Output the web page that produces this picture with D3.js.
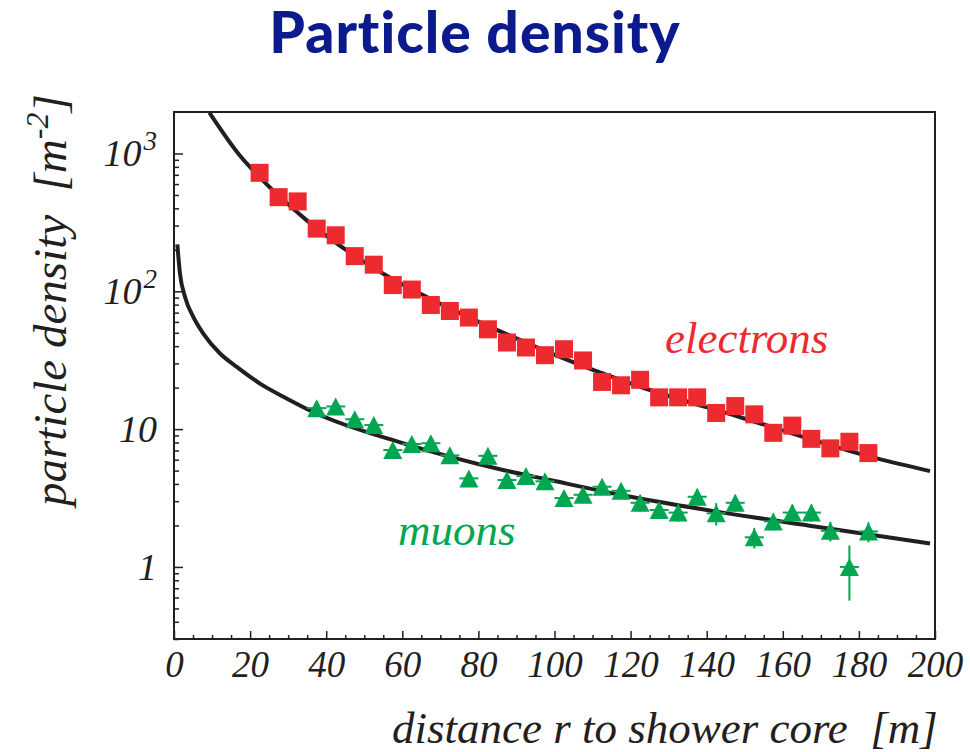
<!DOCTYPE html>
<html>
<head>
<meta charset="utf-8">
<script src="https://cdn.jsdelivr.net/npm/d3@7"></script>
<style>
  html, body { margin: 0; padding: 0; background: #ffffff; }
  svg { display: block; }
</style>
</head>
<body>
<svg id="chart" width="970" height="752"></svg>
<script>
// ---- data -------------------------------------------------------------
// electron densities per 5 m radial bin [m^-2]
const electronR = [22.5, 27.5, 32.5, 37.5, 42.5, 47.5, 52.5, 57.5, 62.5, 67.5, 72.5,
                   77.5, 82.5, 87.5, 92.5, 97.5, 102.5, 107.5, 112.5, 117.5, 122.5,
                   127.5, 132.5, 137.5, 142.5, 147.5, 152.5, 157.5, 162.5, 167.5,
                   172.5, 177.5, 182.5];
const electronDensity = [724, 482, 449, 285, 255, 180, 156, 111, 103, 79.6, 72,
                         64.5, 53, 42.5, 39.1, 34.4, 38, 31.5, 22, 20.8, 22.8,
                         17, 17, 17, 13.1, 14.7, 12.8, 9.4, 10.6, 8.5,
                         7.25, 8.1, 6.7];

// muon densities per 5 m radial bin [m^-2] with statistical errors
const muonR = [37.5, 42.5, 47.5, 52.5, 57.5, 62.5, 67.5, 72.5, 77.5, 82.5,
               87.5, 92.5, 97.5, 102.5, 107.5, 112.5, 117.5, 122.5, 127.5, 132.5,
               137.5, 142.5, 147.5, 152.5, 157.5, 162.5, 167.5, 172.5, 177.5, 182.5];
const muonDensity = [14.2, 14.6, 11.8, 10.7, 7.05, 7.8, 7.9, 6.45, 4.39, 6.4,
                     4.27, 4.57, 4.18, 3.16, 3.34, 3.82, 3.57, 2.92, 2.59, 2.48,
                     3.23, 2.45, 2.92, 1.64, 2.14, 2.48, 2.48, 1.83, 1.0, 1.81];
const muonError = [1.2, 1.2, 1.0, 0.9, 0.7, 0.7, 0.7, 0.6, 0.5, 0.6,
                   0.5, 0.5, 0.5, 0.4, 0.4, 0.45, 0.4, 0.4, 0.35, 0.35,
                   0.4, 0.45, 0.4, 0.28, 0.3, 0.35, 0.35, 0.3, 0.43, 0.3];

// fitted lateral distribution functions, sampled
const electronFitR = [9.3, 17.3, 22.5, 34.9, 55, 69.9, 96.2, 101.4, 122.5, 148.8, 184.7, 198.7];
const electronFitD = [1980, 967, 673, 327, 134, 81.4, 38.4, 33.4, 20.3, 12.2, 6.13, 4.96];
const muonFitR = [0.87, 1.58, 2.9, 5.1, 7.7, 12.1, 16.5, 22.6, 29.6, 36.6, 60.3, 86.5, 98.8, 120.7, 142.6, 168.9, 198.7];
const muonFitD = [219, 134, 91, 65, 49.4, 35.4, 28.3, 21.4, 16.7, 13.3, 7.88, 5.05, 4.27, 3.2, 2.52, 1.96, 1.48];

// axis ticks
const xMajorTicks = [0, 20, 40, 60, 80, 100, 120, 140, 160, 180, 200];
const yMajorTicks = [1, 10, 100, 1000];
const yTickLabels = [{base: "1", sup: ""}, {base: "10", sup: ""}, {base: "10", sup: "2"}, {base: "10", sup: "3"}];

// ---- layout -----------------------------------------------------------
const RED = "#ec2a2f", GREEN = "#00a651", INK = "#231f20", TITLE = "#0b1a8c";
const frame = {left: 174, right: 935, top: 112, bottom: 639};
const SERIF = '"Liberation Serif"';

const svg = d3.select("#chart");
const italic = sel => sel.style("font-family", SERIF).style("font-style", "italic");

const x = d3.scaleLinear().domain([0, 200]).range([frame.left, frame.right]);
const y = d3.scaleLog().domain([0.3, 2000]).range([frame.bottom, frame.top]);

// title
svg.append("text")
  .attr("x", 475).attr("y", 53)
  .attr("text-anchor", "middle")
  .style("font-family", '"Lato"')
  .style("font-weight", 900)
  .style("font-size", "57px")
  .style("letter-spacing", "1px")
  .style("font-variant-ligatures", "none")
  .attr("fill", TITLE)
  .text("Particle density");

// clip region for curves
svg.append("clipPath").attr("id", "plot-clip")
  .append("rect").attr("x", frame.left).attr("y", frame.top)
  .attr("width", frame.right - frame.left).attr("height", frame.bottom - frame.top);

// ---- axes ---------------------------------------------------------------
const xMinor = d3.range(0, 201, 5).filter(v => v % 20 !== 0);
const yMinor = [];
[0.1, 1, 10, 100, 1000].forEach(d => { for (let k = 2; k <= 9; k++) { const v = d * k; if (v > 0.3 && v < 2000) yMinor.push(v); } });

const gx = svg.append("g").attr("transform", `translate(0,${frame.bottom})`);
gx.call(d3.axisBottom(x).tickValues(xMajorTicks).tickSize(-8).tickFormat(d3.format("d")));
gx.call(g => g.select(".domain").remove());
gx.selectAll(".tick line").attr("stroke", INK).attr("stroke-width", 1.5);
gx.selectAll(".tick text")
  .call(italic).style("font-size", "37px")
  .attr("fill", INK).attr("dy", null).attr("y", 38);

const gxm = svg.append("g").attr("transform", `translate(0,${frame.bottom})`);
gxm.call(d3.axisBottom(x).tickValues(xMinor).tickSize(-4).tickFormat(""));
gxm.call(g => g.select(".domain").remove());
gxm.selectAll(".tick line").attr("stroke", INK).attr("stroke-width", 1.5);

const gy = svg.append("g").attr("transform", `translate(${frame.left},0)`);
gy.call(d3.axisLeft(y).tickValues(yMajorTicks).tickSize(-9).tickFormat(""));
gy.call(g => g.select(".domain").remove());
gy.selectAll(".tick line").attr("stroke", INK).attr("stroke-width", 1.5);

const gym = svg.append("g").attr("transform", `translate(${frame.left},0)`);
gym.call(d3.axisLeft(y).tickValues(yMinor).tickSize(-5).tickFormat(""));
gym.call(g => g.select(".domain").remove());
gym.selectAll(".tick line").attr("stroke", INK).attr("stroke-width", 1.5);

// y tick labels with superscript exponents
yMajorTicks.forEach((v, i) => {
  const lab = yTickLabels[i];
  const t = svg.append("text")
    .call(italic)
    .attr("x", 157).attr("y", y(v) + 13)
    .attr("text-anchor", "end")
    .style("font-size", "38px").attr("fill", INK);
  if (lab.sup) {
    t.append("tspan").text(lab.base);
    t.append("tspan").attr("dy", -16).attr("dx", 2).style("font-size", "27px").text(lab.sup);
  } else {
    t.text(lab.base);
  }
});

// frame
svg.append("rect")
  .attr("x", frame.left).attr("y", frame.top)
  .attr("width", frame.right - frame.left).attr("height", frame.bottom - frame.top)
  .attr("fill", "none").attr("stroke", INK).attr("stroke-width", 2);

// axis titles
svg.append("text")
  .call(italic)
  .attr("x", 392).attr("y", 743)
  .style("font-size", "45px").style("white-space", "pre").attr("fill", INK)
  .text("distance r to shower core  [m]");

const yt = svg.append("text")
  .call(italic)
  .attr("transform", "translate(66,506) rotate(-90)")
  .style("font-size", "47px").style("white-space", "pre").attr("fill", INK);
yt.append("tspan").text("particle density  [m");
yt.append("tspan").attr("dy", -18).style("font-size", "32px").text("-2");
yt.append("tspan").attr("dy", 18).text("]");

// ---- fit curves -----------------------------------------------------------
const line = d3.line().x(d => x(d[0])).y(d => y(d[1])).curve(d3.curveMonotoneX);
const curves = svg.append("g").attr("clip-path", "url(#plot-clip)");
curves.append("path")
  .datum(d3.zip(electronFitR, electronFitD))
  .attr("d", line).attr("fill", "none").attr("stroke", INK).attr("stroke-width", 4);
curves.append("path")
  .datum(d3.zip(muonFitR, muonFitD))
  .attr("d", line).attr("fill", "none").attr("stroke", INK).attr("stroke-width", 4);

// ---- electrons: filled squares ------------------------------------------------
const sq = 18;
svg.append("g").selectAll("rect")
  .data(d3.zip(electronR, electronDensity))
  .join("rect")
  .attr("x", d => x(d[0]) - sq / 2).attr("y", d => y(d[1]) - sq / 2)
  .attr("width", sq).attr("height", sq)
  .attr("fill", RED);

// ---- muons: triangles with error bars -----------------------------------------
const muons = d3.zip(muonR, muonDensity, muonError);
const mg = svg.append("g");
mg.selectAll("line.hbar").data(muons).join("line").attr("class", "hbar")
  .attr("x1", d => x(d[0] - 2.5)).attr("x2", d => x(d[0] + 2.5))
  .attr("y1", d => y(d[1])).attr("y2", d => y(d[1]))
  .attr("stroke", GREEN).attr("stroke-width", 2);
mg.selectAll("line.vbar").data(muons).join("line").attr("class", "vbar")
  .attr("x1", d => x(d[0])).attr("x2", d => x(d[0]))
  .attr("y1", d => y(d[1] - d[2])).attr("y2", d => y(d[1] + d[2]))
  .attr("stroke", GREEN).attr("stroke-width", 2);
const tri = (cx, cy) => {
  const p = d3.path();
  p.moveTo(cx, cy - 9); p.lineTo(cx + 9.5, cy + 9); p.lineTo(cx - 9.5, cy + 9); p.closePath();
  return p.toString();
};
mg.selectAll("path").data(muons).join("path")
  .attr("d", d => tri(x(d[0]), y(d[1])))
  .attr("fill", GREEN);

// series labels
svg.append("text")
  .call(italic)
  .attr("x", 665).attr("y", 353)
  .style("font-size", "45px").attr("fill", RED)
  .text("electrons");
svg.append("text")
  .call(italic)
  .attr("x", 398).attr("y", 545)
  .style("font-size", "45px").attr("fill", GREEN)
  .text("muons");
</script>
</body>
</html>
